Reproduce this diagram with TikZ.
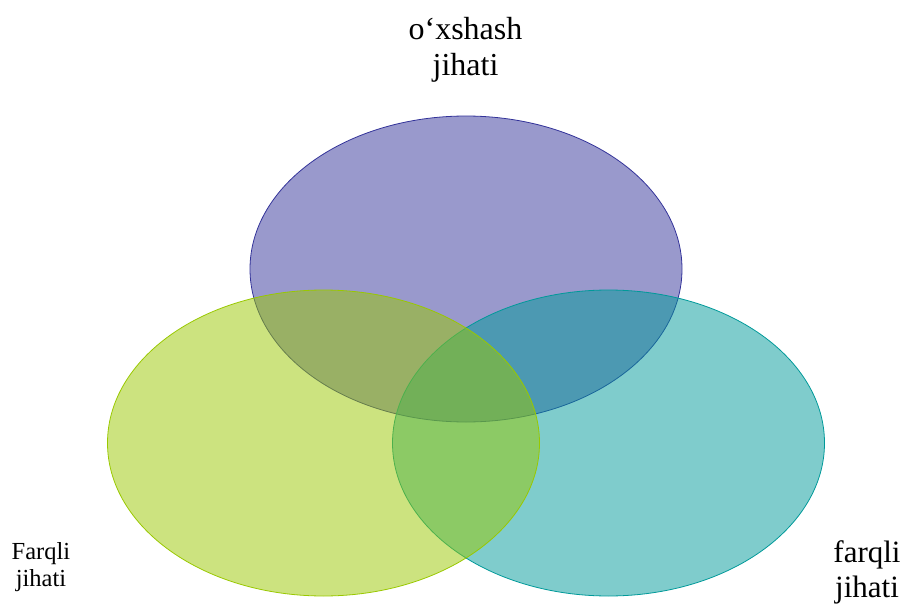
\documentclass[tikz,border=0pt]{standalone}
\usepackage{fontspec}
\setmainfont{Liberation Serif}
\usetikzlibrary{shapes.geometric}
\definecolor{topc}{HTML}{333399}
\definecolor{rightc}{HTML}{009999}
\definecolor{leftc}{HTML}{99C800}
\tikzset{
  venn/.style={ellipse, inner sep=0pt, minimum width=432pt, minimum height=306pt,
    fill opacity=0.5, draw opacity=1, line width=0.8pt},
  lbl/.style={align=center, inner sep=0pt, text=black}
}
\begin{document}
\begin{tikzpicture}[x=1pt,y=-1pt]
\useasboundingbox (0,0) rectangle (903,605);
\node[venn, draw=topc, fill=topc] (top) at (466,269) {};
\node[venn, draw=rightc, fill=rightc] (right) at (608.5,443) {};
\node[venn, draw=leftc, fill=leftc] (left) at (323.5,443) {};
\node[lbl, anchor=base, font=\fontsize{32}{36}\selectfont] (ttop) at (465.5,75) {o‘xshash\\jihati};
\node[lbl, anchor=base, font=\fontsize{24.5}{27.7}\selectfont] (tleft) at (41,586.7) {Farqli\\jihati};
\node[lbl, anchor=base, font=\fontsize{31}{35}\selectfont] (tright) at (867,597) {farqli\\jihati};
\end{tikzpicture}
\end{document}
